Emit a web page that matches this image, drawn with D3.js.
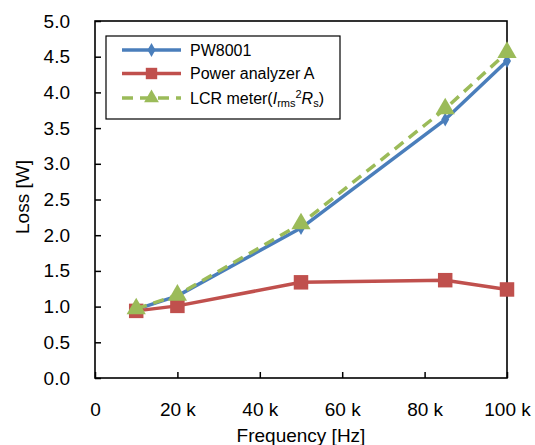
<!DOCTYPE html>
<html>
<head>
<meta charset="utf-8">
<script src="https://cdn.jsdelivr.net/npm/d3@7"></script>
<style>
  html, body { margin: 0; padding: 0; background: #fff; }
  svg { display: block; font-family: "Liberation Sans", Arial, sans-serif; }
</style>
</head>
<body>
<svg id="chart" width="535" height="445"></svg>
<script>
// Loss measured at each test frequency
const frequencies = [10000, 20000, 50000, 85000, 100000];
const pw8001 = [0.96, 1.15, 2.10, 3.62, 4.44];
const analyzerA = [0.94, 1.01, 1.34, 1.37, 1.24];
const lcrMeter = [0.97, 1.16, 2.16, 3.77, 4.56];

const yTicks = [0, 0.5, 1, 1.5, 2, 2.5, 3, 3.5, 4, 4.5, 5];
const xTicks = [0, 20000, 40000, 60000, 80000, 100000];
const seriesNames = ["PW8001", "Power analyzer A", "LCR meter"];

const svg = d3.select("#chart");
const plot = { left: 95, right: 507, top: 21, bottom: 378 };

const x = d3.scaleLinear().domain([0, 100000]).range([plot.left, plot.right]);
const y = d3.scaleLinear().domain([0, 5]).range([plot.bottom, plot.top]);

const colors = { blue: "#4a7ebb", red: "#c0504d", green: "#9bbb59" };

// Axes with inward ticks
const yAxis = d3.axisLeft(y).tickValues(yTicks).tickFormat(d3.format(".1f"))
  .tickSizeInner(-6).tickSizeOuter(0).tickPadding(25);
const xAxis = d3.axisBottom(x).tickValues(xTicks)
  .tickFormat(d => d === 0 ? "0" : (d / 1000) + " k")
  .tickSizeInner(-6).tickSizeOuter(0).tickPadding(25);

const gy = svg.append("g").attr("transform", `translate(${plot.left},0)`).call(yAxis);
const gx = svg.append("g").attr("transform", `translate(0,${plot.bottom})`).call(xAxis);
[gy, gx].forEach(g => {
  g.select(".domain").remove();
  g.selectAll(".tick line").attr("stroke", "#000").attr("stroke-width", 1.5);
  g.selectAll(".tick text").attr("fill", "#000").style("font-size", "19px")
    .style("font-family", "'Liberation Sans', Arial, sans-serif");
});

// Plot frame
svg.append("rect")
  .attr("x", plot.left).attr("y", plot.top)
  .attr("width", plot.right - plot.left).attr("height", plot.bottom - plot.top)
  .attr("fill", "none").attr("stroke", "#000").attr("stroke-width", 1.6);

// Axis titles
svg.append("text")
  .attr("transform", "translate(29,197) rotate(-90)")
  .attr("text-anchor", "middle").style("font-size", "19px").text("Loss [W]");
svg.append("text")
  .attr("x", (plot.left + plot.right) / 2).attr("y", 442)
  .attr("text-anchor", "middle").style("font-size", "19px").text("Frequency [Hz]");

// Series
const line = d3.line()
  .x((d, i) => x(frequencies[i]))
  .y(d => y(d));

const diamond = d3.symbol().type(d3.symbolDiamond).size(55);
const square = d3.symbol().type(d3.symbolSquare).size(210);
const triangle = d3.symbol().type(d3.symbolTriangle).size(160);

function drawSeries(values, color, dash, symbolGen) {
  const g = svg.append("g");
  g.append("path").datum(values)
    .attr("d", line).attr("fill", "none")
    .attr("stroke", color).attr("stroke-width", 3.5)
    .attr("stroke-linejoin", "round")
    .attr("stroke-dasharray", dash || null);
  g.selectAll("path.m").data(values).join("path").attr("class", "m")
    .attr("transform", (d, i) => `translate(${x(frequencies[i])},${y(d)})`)
    .attr("d", symbolGen).attr("fill", color);
}

drawSeries(pw8001, colors.blue, null, diamond);
drawSeries(analyzerA, colors.red, null, square);
drawSeries(lcrMeter, colors.green, "11,7", triangle);

// Legend
const legend = svg.append("g");
legend.append("rect")
  .attr("x", 106).attr("y", 36).attr("width", 234).attr("height", 83)
  .attr("fill", "#fff").attr("stroke", "#000").attr("stroke-width", 1.2);

const legendItems = [
  { color: colors.blue, dash: null, sym: d3.symbol().type(d3.symbolDiamond).size(55) },
  { color: colors.red, dash: null, sym: d3.symbol().type(d3.symbolSquare).size(130) },
  { color: colors.green, dash: "11,7", sym: d3.symbol().type(d3.symbolTriangle).size(95) }
];
const rowY = [50, 73.5, 98];
legendItems.forEach((it, i) => {
  const yy = rowY[i];
  legend.append("line")
    .attr("x1", 122).attr("x2", 181).attr("y1", yy).attr("y2", yy)
    .attr("stroke", it.color).attr("stroke-width", 3.5)
    .attr("stroke-dasharray", it.dash);
  legend.append("path")
    .attr("transform", `translate(151.5,${yy})`)
    .attr("d", it.sym)
    .attr("fill", it.color);
});

const legendText = legend.append("g").style("font-size", "16px");
legendText.append("text").attr("x", 190).attr("y", rowY[0] + 5.5).text(seriesNames[0]);
legendText.append("text").attr("x", 190).attr("y", rowY[1] + 5.5).text(seriesNames[1]);
const lcr = legendText.append("text").attr("x", 190).attr("y", rowY[2] + 5.5);
lcr.append("tspan").text(seriesNames[2] + "(");
lcr.append("tspan").style("font-style", "italic").text("I");
lcr.append("tspan").attr("dy", 3).style("font-size", "11px").text("rms");
lcr.append("tspan").attr("dy", -9).style("font-size", "11px").text("2");
lcr.append("tspan").attr("dy", 6).style("font-style", "italic").text("R");
lcr.append("tspan").attr("dy", 3).style("font-size", "11px").text("s");
lcr.append("tspan").attr("dy", -3).text(")");
</script>
</body>
</html>
